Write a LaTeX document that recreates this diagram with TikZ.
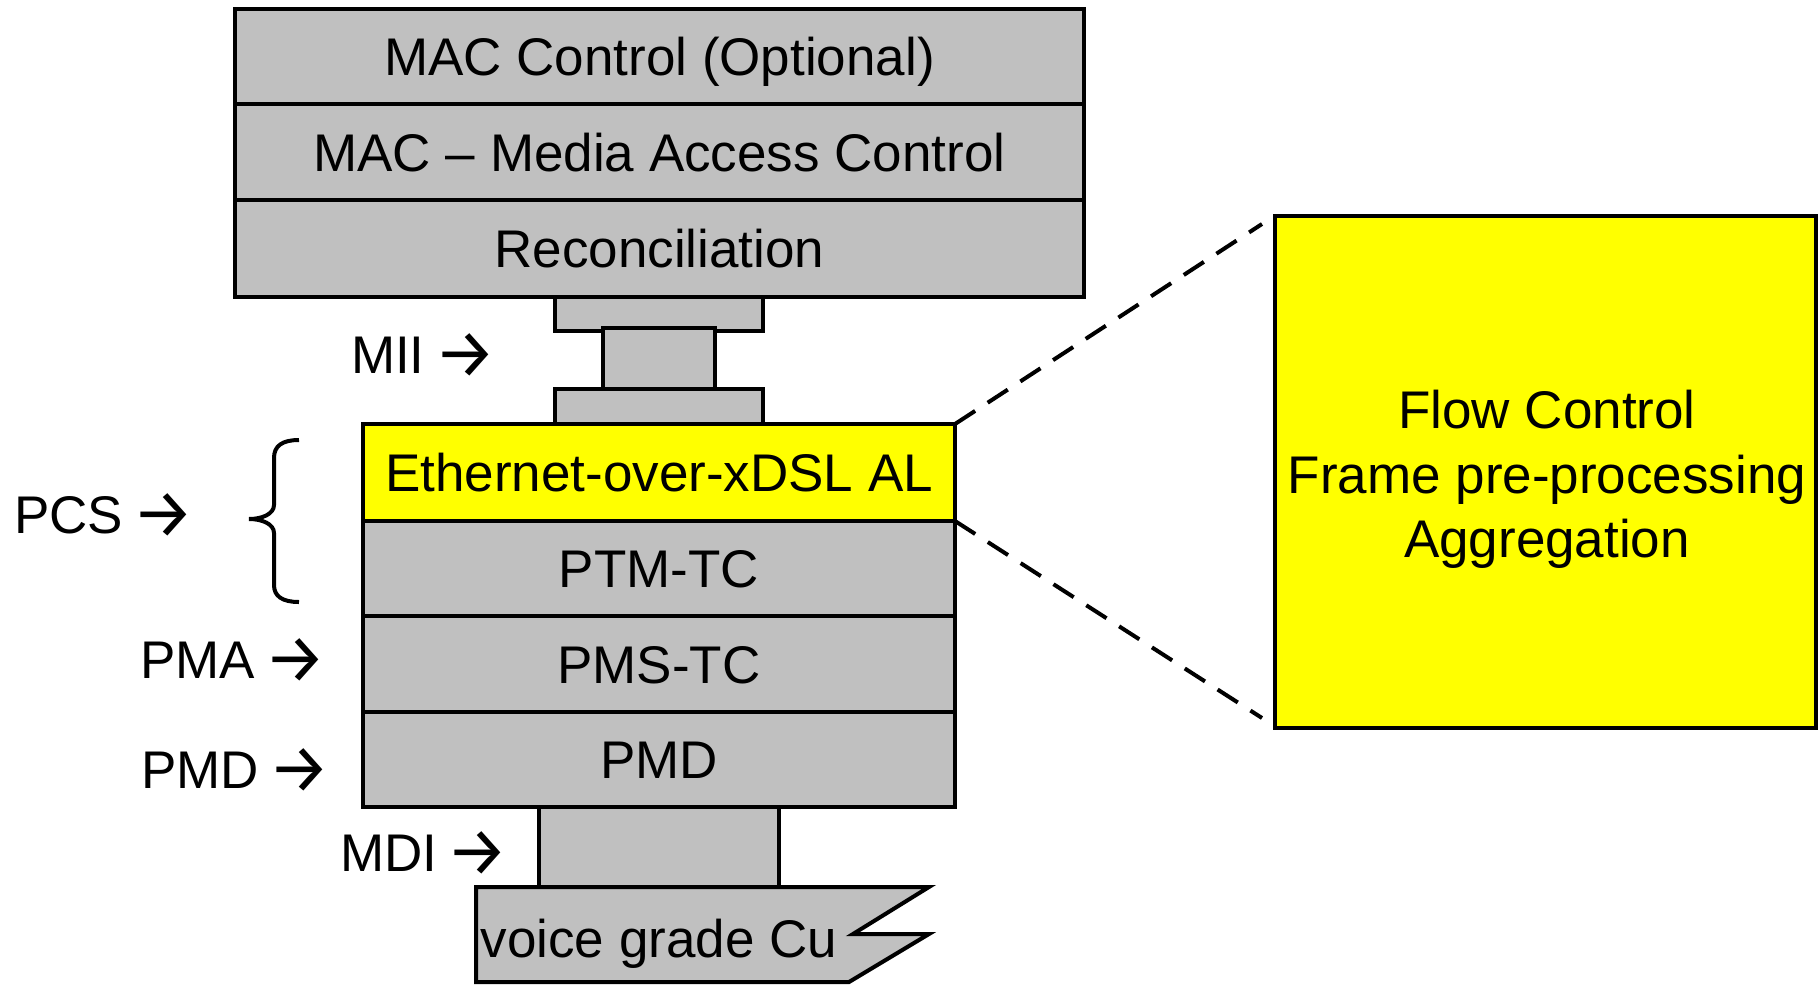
\documentclass[tikz,border=0pt]{standalone}
\usepackage{fontspec}
\usepackage{graphicx}
\setmainfont{Liberation Sans}
\newfontfamily\arrowfont{Fira Sans}
\definecolor{layergray}{HTML}{C0C0C0}
\definecolor{alyellow}{HTML}{FFFF00}
% label arrow, enlarged and centred on the capitals
\newcommand{\lblarrow}{\kern-5pt\raisebox{-0.09em}{\scalebox{1.3}{\arrowfont →}}}
\begin{document}
\begin{tikzpicture}[x=1pt,y=-1pt,
  every node/.style={inner sep=0pt,outer sep=0pt},
  lbl/.style={font=\fontsize{53}{64}\selectfont,text height=38pt,text depth=0pt},
  layer/.style={lbl,draw=black,line width=4pt,fill=layergray,rectangle},
  hilite/.style={layer,fill=alyellow},
  side/.style={lbl,anchor=west},
  zoomline/.style={draw=black,line width=4pt,dash pattern=on 24pt off 15pt}]
\useasboundingbox (0,0) rectangle (1818,986);

% MII connector plates
\node[layer,minimum width=208pt,minimum height=32pt] (miitop) at (659,312) {};
\node[layer,minimum width=112pt,minimum height=64pt] (miimid) at (659,360) {};
\node[layer,minimum width=208pt,minimum height=32pt] (miibot) at (659,408) {};

% upper stack
\node[layer,minimum width=849pt,minimum height=95pt] (macctl) at (659.5,56.5) {MAC Control (Optional)};
\node[layer,minimum width=849pt,minimum height=96pt] (mac) at (659.5,152) {MAC – Media Access Control};
\node[layer,minimum width=849pt,minimum height=97pt] (rs) at (659.5,248.5) {Reconciliation};

% MDI connector and copper line
\node[layer,minimum width=240pt,minimum height=80pt] (mdi) at (659,847) {};
\draw[line width=4pt,fill=layergray,line join=miter]
  (476,887) -- (929,887) -- (853,934) -- (929,934) -- (849,982) -- (476,982) -- cycle;
\node[lbl] (cu) at (659,938) {voice grade Cu};

% lower stack
\node[hilite,minimum width=592pt,minimum height=97pt] (eth) at (659,472.5) {Ethernet-over-xDSL AL};
\node[layer,minimum width=592pt,minimum height=95pt] (ptm) at (659,568.5) {PTM-TC};
\node[layer,minimum width=592pt,minimum height=96pt] (pms) at (659,664) {PMS-TC};
\node[layer,minimum width=592pt,minimum height=95pt] (pmd) at (659,759.5) {PMD};

% detail box
\node[hilite,minimum width=541pt,minimum height=512pt] (detail) at (1545.5,472) {};
\node[lbl] (fc1) at (1547,409) {Flow Control};
\node[lbl] (fc2) at (1547,474) {Frame pre-processing};
\node[lbl] (fc3) at (1547,538) {Aggregation};

\coordinate (zt) at (1262,224);
\coordinate (zb) at (1262,718);
\draw[zoomline] (eth.north east) -- (zt);
\draw[zoomline] (eth.south east) -- (zb);

% side labels
\node[side] (miil) at (351,354) {MII \lblarrow};
\node[side] (pcsl) at (14,514) {PCS \lblarrow};
\node[side] (pmal) at (140,659) {PMA \lblarrow};
\node[side] (pmdl) at (141,769) {PMD \lblarrow};
\node[side] (mdil) at (340,852) {MDI \lblarrow};

% PCS brace
\draw[line width=4pt]
  (299,440) .. controls (282,440) and (274,446) .. (274,458) -- (274,505)
  .. controls (274,514) and (262,519) .. (249,519)
  .. controls (262,519) and (274,524) .. (274,533) -- (274,585)
  .. controls (274,596) and (282,602) .. (299,602);
\end{tikzpicture}
\end{document}
